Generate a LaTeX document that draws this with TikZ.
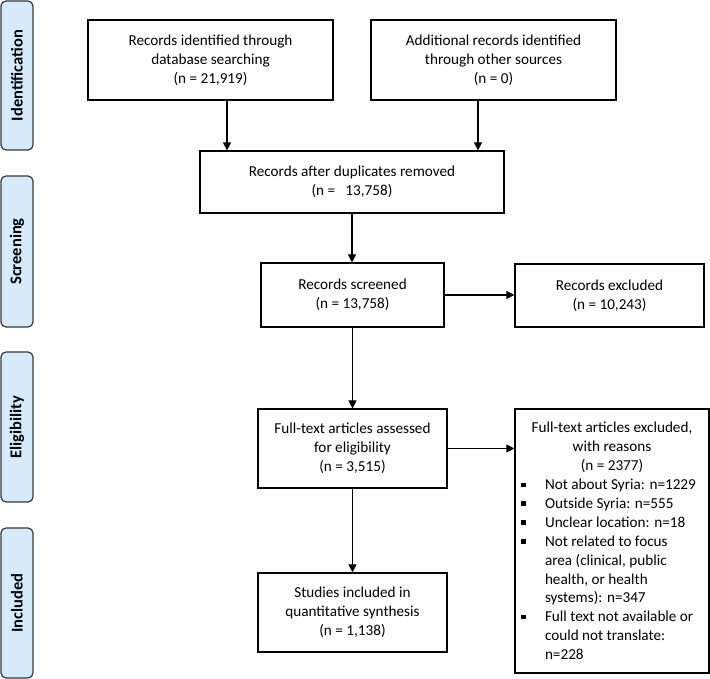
\documentclass[tikz,border=0pt]{standalone}
\usepackage{fontspec}
\setmainfont{Carlito}
\usetikzlibrary{arrows.meta}
\definecolor{bandfill}{RGB}{213,234,250}
\definecolor{bandline}{RGB}{55,55,55}
\newcommand{\fs}{\fontsize{15.2}{18.9}\selectfont}
\newcommand{\sqb}{\makebox[24pt][l]{\rule[2.5pt]{4.5pt}{4.5pt}}}
\newcommand{\ind}{\hspace*{24pt}}
\begin{document}
\begin{tikzpicture}[x=1pt,y=-1pt,
  box/.style={draw=black, line width=1.2pt, align=center, font=\fs, inner sep=0pt},
  arr/.style={-{Triangle[length=8pt,width=8pt]}, line width=1.1pt},
  band/.style={draw=bandline, fill=bandfill, rounded corners=5pt, line width=1.2pt,
    inner sep=0pt, rotate=90, minimum height=32pt, font=\bfseries\fontsize{16.5}{19}\selectfont}]
\useasboundingbox (0,0) rectangle (710,679);

% phase bands
\node[band, minimum width=149pt] (b1) at (17,75.5) {Identification};
\node[band, minimum width=151pt] (b2) at (17,251.5) {Screening};
\node[band, minimum width=150pt] (b3) at (17,427) {Eligibility};
\node[band, minimum width=150pt] (b4) at (17,603) {Included};

% boxes
\node[box, minimum width=245pt, minimum height=80pt] (id1) at (210.5,60)
  {Records identified through\\database searching\\(n = 21,919)};
\node[box, minimum width=245pt, minimum height=80pt] (id2) at (493.5,60)
  {Additional records identified\\through other sources\\(n = 0)};
\node[box, minimum width=304pt, minimum height=62pt] (dup) at (352,182)
  {Records after duplicates removed\\(n = \ \ 13,758)};
\node[box, minimum width=183pt, minimum height=64pt] (scr) at (352.5,295)
  {Records screened\\(n = 13,758)};
\node[box, minimum width=189pt, minimum height=63pt] (exc1) at (609.5,295.5)
  {Records excluded\\(n = 10,243)};
\node[box, minimum width=189pt, minimum height=79pt] (elig) at (352.5,448.5)
  {Full-text articles assessed\\for eligibility\\(n = 3,515)};
\node[box, minimum width=189pt, minimum height=79pt] (incl) at (352.5,612.5)
  {Studies included in\\quantitative synthesis\\(n = 1,138)};
\node[box, minimum width=194pt, minimum height=264pt] (exc2) at (612,541)
  {\begin{minipage}{182pt}\fs
   \centering Full-text articles excluded,\\with reasons\\(n = 2377)\par
   \raggedright
   \sqb Not about Syria: n=1229\\
   \sqb Outside Syria: n=555\\
   \sqb Unclear location: n=18\\
   \sqb Not related to focus\\
   \ind area (clinical, public\\
   \ind health, or health\\
   \ind systems): n=347\\
   \sqb Full text not available or\\
   \ind could not translate:\\
   \ind n=228\par
   \end{minipage}};

% helper coordinates for off-centre arrows
\coordinate (a1) at (227,0);
\coordinate (a2) at (478,0);

% connectors
\draw[arr] (id1.south -| a1) -- (dup.north -| a1);
\draw[arr] (id2.south -| a2) -- (dup.north -| a2);
\draw[arr] (dup.south) -- (dup.south |- scr.north);
\draw[arr] (scr.east) -- (exc1.west |- scr.east);
\draw[arr] (scr.south) -- (scr.south |- elig.north);
\draw[arr] (elig.east) -- (exc2.west |- elig.east);
\draw[arr] (elig.south) -- (incl.north);
\end{tikzpicture}
\end{document}
